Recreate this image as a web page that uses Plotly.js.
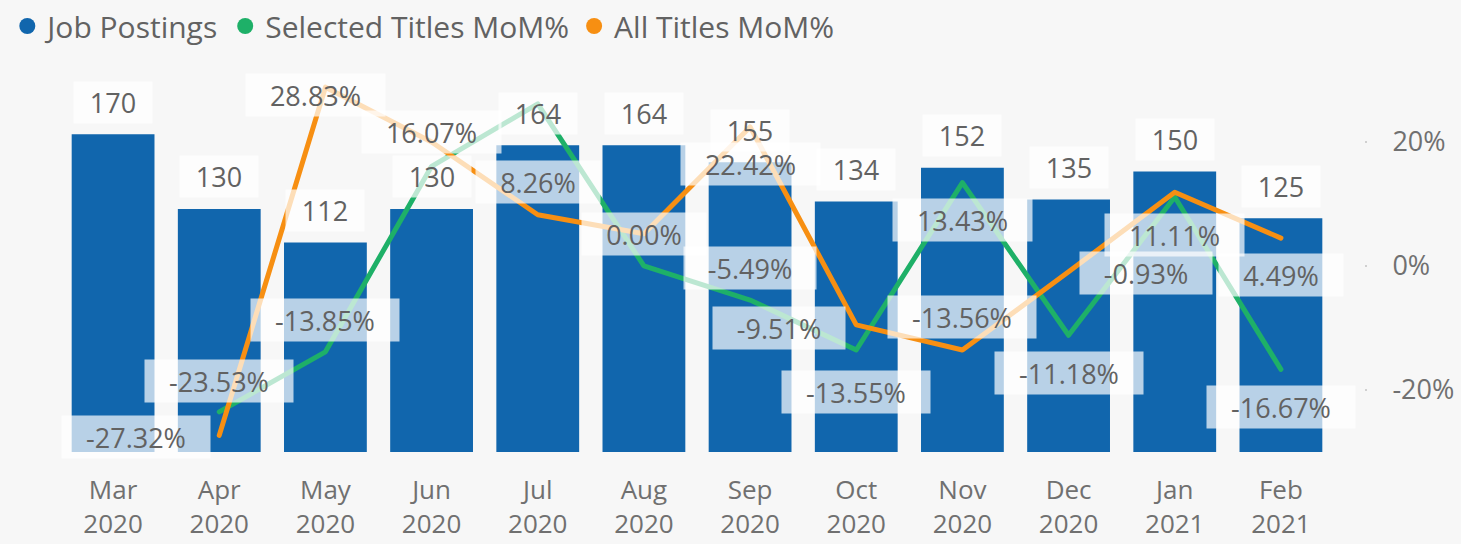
<!DOCTYPE html>
<html>
<head>
<meta charset="utf-8">
<script src="https://cdn.plot.ly/plotly-3.0.1.min.js"></script>
<style>
html,body{margin:0;padding:0;background:#f7f7f7;}
#chart{width:1461px;height:544px;}
.scatterlayer path.js-line{stroke-linecap:round !important;stroke-linejoin:round !important;}
</style>
</head>
<body>
<div id="chart"></div>
<script>
// ---- data ----
const months = ['Mar 2020','Apr 2020','May 2020','Jun 2020','Jul 2020','Aug 2020','Sep 2020','Oct 2020','Nov 2020','Dec 2020','Jan 2021','Feb 2021'];
const jobPostings = [170,130,112,130,164,164,155,134,152,135,150,125];
const selectedMoM = [null,-23.53,-13.85,16.07,26.15,0.00,-5.49,-13.55,13.43,-11.18,11.11,-16.67];
const allMoM = [null,-27.32,28.83,20.0,8.26,5.2,22.42,-9.51,-13.56,-0.93,11.9,4.49];
const y2TickVals = [-20,0,20];
const y2TickText = ['-20%','0%','20%'];
const seriesNames = ['Job Postings','Selected Titles MoM%','All Titles MoM%'];

// ---- label placement (pixel offsets [xshift, yshift]; null = label hidden) ----
const selLabelPos = [null,[0,31],[0,32],[0,34],null,[0,32],[0,32],[0,-42],[0,-37],[0,-38],[0,-38],[0,-38]];
const allLabelPos = [null,[-83,-2],[-10,-8],null,[0,33],null,[0,-37],[-77,-3],[0,33],[77,-1],null,[0,-37]];

// ---- style ----
const FONT = '"Open Sans", "Noto Sans", sans-serif';
const BLUE = '#1166ad', GREEN = '#1eb068', ORANGE = '#f78f12';
const TXT = '#626262';
const LBL = 27;
const BOXBG = 'rgba(255,255,255,0.7)';

const cv = document.createElement('canvas').getContext('2d');
function tw(s, size){ cv.font = size + 'px "Open Sans"'; return cv.measureText(s).width; }
function pct(v){ return v.toFixed(2) + '%'; }

const annotations = [];
// bar labels
jobPostings.forEach((v,i)=>{
  const t = String(v);
  annotations.push({x: months[i], y: v, xref:'x', yref:'y', text: t, showarrow:false,
    yshift: 32, bgcolor: BOXBG, borderpad: 3, width: Math.round(tw(t,LBL)+26), height: 35,
    font:{family:FONT, size:LBL, color:TXT}});
});
function lineLabels(vals, pos){
  vals.forEach((v,i)=>{
    if (v === null || !pos[i]) return;
    const t = pct(v);
    annotations.push({x: months[i], y: v, xref:'x', yref:'y2', text: t, showarrow:false,
      xshift: pos[i][0], yshift: pos[i][1], bgcolor: BOXBG, borderpad: 3,
      width: Math.round(tw(t,LBL)+42), height: 36,
      font:{family:FONT, size:LBL, color:TXT}});
  });
}
lineLabels(selectedMoM, selLabelPos);
lineLabels(allMoM, allLabelPos);

const traces = [
  {type:'bar', x: months, y: jobPostings, marker:{color: BLUE}, showlegend:false, hoverinfo:'skip'},
  {type:'scatter', mode:'lines', x: months, y: selectedMoM, yaxis:'y2', line:{color: GREEN, width:5}, showlegend:false, hoverinfo:'skip'},
  {type:'scatter', mode:'lines', x: months, y: allMoM, yaxis:'y2', line:{color: ORANGE, width:5}, showlegend:false, hoverinfo:'skip'},
  {type:'scatter', mode:'markers', x:[null], y:[null], name: seriesNames[0], marker:{color: BLUE, size:20}},
  {type:'scatter', mode:'markers', x:[null], y:[null], name: seriesNames[1], marker:{color: GREEN, size:20}},
  {type:'scatter', mode:'markers', x:[null], y:[null], name: seriesNames[2], marker:{color: ORANGE, size:20}}
];

const plotW = 1461 - 60 - 60;
const layout = {
  width: 1461, height: 544,
  paper_bgcolor: '#f7f7f7', plot_bgcolor: 'rgba(0,0,0,0)',
  margin: {l:60, r:60, t:70, b:92},
  font: {family: FONT, color: TXT},
  bargap: 0.22,
  showlegend: true,
  legend: {orientation:'h', xref:'container', yref:'container', x:0.005, y:1, xanchor:'left', yanchor:'top',
    font:{family:FONT, size:30, color:TXT}, itemwidth:30, bgcolor:'rgba(0,0,0,0)'},
  xaxis: {type:'category', categoryarray: months, tickvals: months,
    ticktext: months.map(m => m.replace(' ','<br>')), range:[-0.5, 11.5],
    domain:[0, 1274/plotW], showgrid:false, zeroline:false, showline:false, ticks:'',
    ticklabelstandoff: 20,
    tickfont:{family:FONT, size:26, color:'#707070'}, fixedrange:true},
  yaxis: {range:[0, 204.3], visible:false, showgrid:false, zeroline:false, fixedrange:true},
  yaxis2: {overlaying:'y', side:'right', anchor:'free', position: 1304/plotW,
    range:[-30, 31.6], tickvals: y2TickVals, ticktext: y2TickText,
    showgrid:false, zeroline:false, showline:false,
    ticks:'outside', ticklen:2, tickwidth:2, tickcolor:'#d0d0d0', ticklabelstandoff: 20,
    tickfont:{family:FONT, size:LBL, color:'#707070'}, fixedrange:true},
  annotations: annotations
};

Plotly.newPlot('chart', traces, layout, {displayModeBar:false, staticPlot:true});
</script>
</body>
</html>
